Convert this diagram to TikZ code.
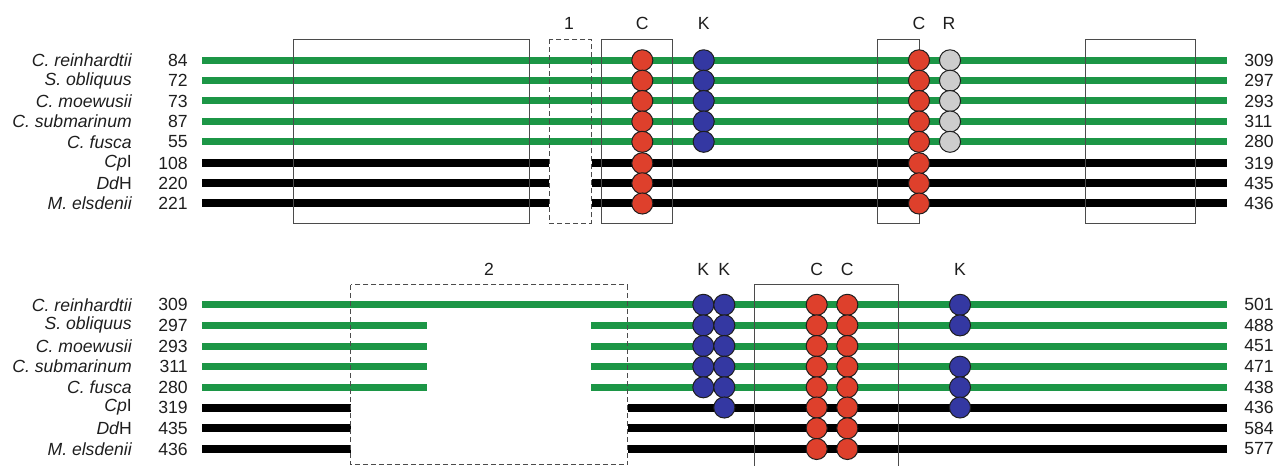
\documentclass[tikz,border=0pt]{standalone}
\usepackage{fontspec}
\setmainfont{Liberation Sans}
\definecolor{bargreen}{RGB}{28,150,70}
\definecolor{dotred}{RGB}{222,64,44}
\definecolor{dotblue}{RGB}{52,56,162}
\definecolor{dotgrey}{RGB}{205,205,205}
\definecolor{ink}{RGB}{30,30,30}
\begin{document}
\begin{tikzpicture}[x=0.75pt,y=-0.75pt,
  lab/.style={font=\fontsize{13.2}{15}\selectfont, text=ink, inner sep=0pt},
  species/.style={lab, anchor=east, font=\fontsize{13.2}{15}\selectfont\itshape},
  numl/.style={lab, anchor=east},
  numr/.style={lab, anchor=west},
  gbar/.style={bargreen, line width=5.25pt, line cap=butt},
  kbar/.style={black, line width=6pt, line cap=butt},
  solidbox/.style={draw=ink!80, line width=0.75pt},
  dashbox/.style={draw=ink!80, line width=0.75pt, dash pattern=on 3.75pt off 2.25pt},
  dot/.style={circle, draw=ink, line width=0.75pt, minimum size=15.8pt, inner sep=0pt},
  rdot/.style={dot, fill=dotred},
  bdot/.style={dot, fill=dotblue},
  gdot/.style={dot, fill=dotgrey}
]
\useasboundingbox (0,0) rectangle (1276,466);

% ---------------- top panel ----------------
\def\TA{60.3}\def\TB{80.7}\def\TC{101}\def\TD{121.5}\def\TE{141.8}\def\TF{163.3}\def\TG{183.3}\def\TH{203.5}
\node[species] (sa1) at (132,\TA) {C. reinhardtii};
\node[species] (sb1) at (132,\TB) {S. obliquus};
\node[species] (sc1) at (132,\TC) {C. moewusii};
\node[species] (sd1) at (132,\TD) {C. submarinum};
\node[species] (se1) at (132,\TE) {C. fusca};
\node[species] (sf1) at (132,\TF) {Cp\upshape I};
\node[species] (sg1) at (132,\TG) {Dd\upshape H};
\node[species] (sh1) at (132,\TH) {M. elsdenii};
\node[numl] (la1) at (188,\TA) {84};
\node[numl] (lb1) at (188,\TB) {72};
\node[numl] (lc1) at (188,\TC) {73};
\node[numl] (ld1) at (188,\TD) {87};
\node[numl] (le1) at (188,\TE) {55};
\node[numl] (lf1) at (188,\TF) {108};
\node[numl] (lg1) at (188,\TG) {220};
\node[numl] (lh1) at (188,\TH) {221};
\node[numr] (ra1) at (1244,\TA) {309};
\node[numr] (rb1) at (1244,\TB) {297};
\node[numr] (rc1) at (1244,\TC) {293};
\node[numr] (rd1) at (1244,\TD) {311};
\node[numr] (re1) at (1244,\TE) {280};
\node[numr] (rf1) at (1244,\TF) {319};
\node[numr] (rg1) at (1244,\TG) {435};
\node[numr] (rh1) at (1244,\TH) {436};

\foreach \y in {\TA,\TB,\TC,\TD,\TE} \draw[gbar] (202,\y) -- (1226.7,\y);
\foreach \y in {\TF,\TG,\TH} {
  \draw[kbar] (202,\y) -- (549.3,\y);
  \draw[kbar] (591.7,\y) -- (1226.7,\y);
}

\draw[solidbox] (293.3,39.3) rectangle (529,223.3);
\draw[dashbox] (549.3,39.3) rectangle (591.3,223.3);
\draw[solidbox] (601,39.3) rectangle (672.7,223.3);
\draw[solidbox] (877.7,39.3) rectangle (919,223.3);
\draw[solidbox] (1085,39.3) rectangle (1195.7,223.3);

\node[lab] (t1) at (569,23) {1};
\node[lab] (tc1) at (642.3,23) {C};
\node[lab] (tk1) at (703.7,23) {K};
\node[lab] (tc2) at (919,23) {C};
\node[lab] (tr1) at (949,23) {R};

\foreach \y [count=\i] in {\TA,\TB,\TC,\TD,\TE,\TF,\TG,\TH} {
  \node[rdot] (tca\i) at (642.3,\y) {};
  \node[rdot] (tcb\i) at (919,\y) {};
}
\foreach \y [count=\i] in {\TA,\TB,\TC,\TD,\TE} {
  \node[bdot] (tka\i) at (703.7,\y) {};
  \node[gdot] (tra\i) at (950,\y) {};
}

% ---------------- bottom panel ----------------
\def\BA{304.8}\def\BB{325.4}\def\BC{346}\def\BD{366.7}\def\BE{387.3}\def\BF{407.5}\def\BG{428.3}\def\BH{449}
\node[species] (sa2) at (132,\BA) {C. reinhardtii};
\node[species] (sb2) at (132,\BB) {S. obliquus};
\node[species] (sc2) at (132,\BC) {C. moewusii};
\node[species] (sd2) at (132,\BD) {C. submarinum};
\node[species] (se2) at (132,\BE) {C. fusca};
\node[species] (sf2) at (132,\BF) {Cp\upshape I};
\node[species] (sg2) at (132,\BG) {Dd\upshape H};
\node[species] (sh2) at (132,\BH) {M. elsdenii};
\node[numl] (la2) at (188,\BA) {309};
\node[numl] (lb2) at (188,\BB) {297};
\node[numl] (lc2) at (188,\BC) {293};
\node[numl] (ld2) at (188,\BD) {311};
\node[numl] (le2) at (188,\BE) {280};
\node[numl] (lf2) at (188,\BF) {319};
\node[numl] (lg2) at (188,\BG) {435};
\node[numl] (lh2) at (188,\BH) {436};
\node[numr] (ra2) at (1244,\BA) {501};
\node[numr] (rb2) at (1244,\BB) {488};
\node[numr] (rc2) at (1244,\BC) {451};
\node[numr] (rd2) at (1244,\BD) {471};
\node[numr] (re2) at (1244,\BE) {438};
\node[numr] (rf2) at (1244,\BF) {436};
\node[numr] (rg2) at (1244,\BG) {584};
\node[numr] (rh2) at (1244,\BH) {577};

\draw[gbar] (202,\BA) -- (1226.7,\BA);
\foreach \y in {\BB,\BC,\BD,\BE} {
  \draw[gbar] (202,\y) -- (426.7,\y);
  \draw[gbar] (591,\y) -- (1226.7,\y);
}
\foreach \y in {\BF,\BG,\BH} {
  \draw[kbar] (202,\y) -- (350.7,\y);
  \draw[kbar] (627.7,\y) -- (1226.7,\y);
}

\draw[dashbox] (350.7,285) rectangle (627.7,464.8);
\draw[solidbox] (754.3,470) -- (754.3,284.3) -- (898.3,284.3) -- (898.3,470);

\node[lab] (t2) at (489,269) {2};
\node[lab] (bk1) at (703.3,269) {K};
\node[lab] (bk2) at (724.3,269) {K};
\node[lab] (bc1) at (816.7,269) {C};
\node[lab] (bc2) at (847.3,269) {C};
\node[lab] (bk3) at (960,269) {K};

\foreach \y [count=\i] in {\BA,\BB,\BC,\BD,\BE} {
  \node[bdot] (bka\i) at (703.3,\y) {};
}
\foreach \y [count=\i] in {\BA,\BB,\BC,\BD,\BE,\BF} {
  \node[bdot] (bkb\i) at (724.3,\y) {};
}
\foreach \y [count=\i] in {\BA,\BB,\BC,\BD,\BE,\BF,\BG,\BH} {
  \node[rdot] (bca\i) at (816.7,\y) {};
  \node[rdot] (bcb\i) at (847.3,\y) {};
}
\foreach \y [count=\i] in {\BA,\BB,\BD,\BE,\BF} {
  \node[bdot] (bkc\i) at (960,\y) {};
}
\end{tikzpicture}
\end{document}
